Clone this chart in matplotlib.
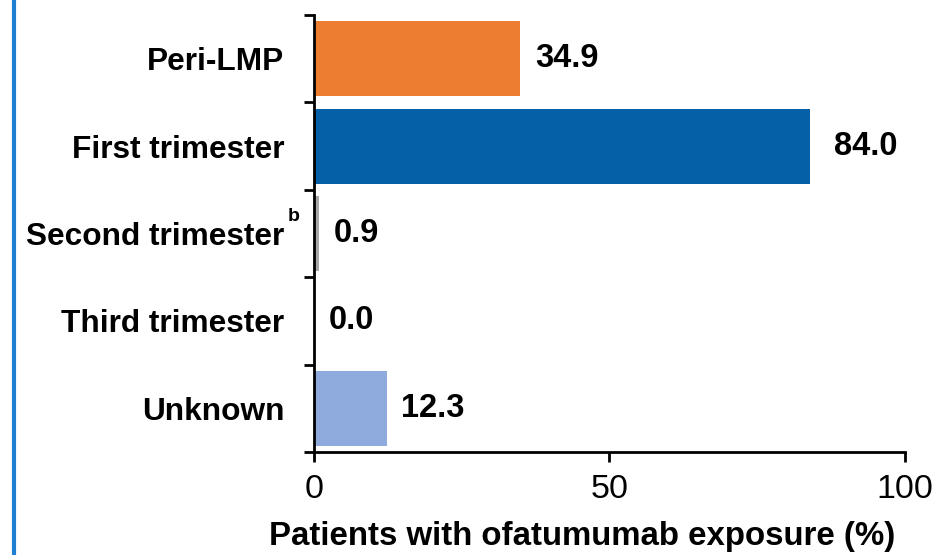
import matplotlib
matplotlib.use("Agg")
import matplotlib.pyplot as plt
from matplotlib.lines import Line2D

categories = ["Peri-LMP", "First trimester", "Second trimester", "Third trimester", "Unknown"]
values = [34.9, 84.0, 0.9, 0.0, 12.3]
value_labels = ["34.9", "84.0", "0.9", "0.0", "12.3"]
bar_colors = ["#ED7D31", "#0560A8", "#A6A6A6", "#A6A6A6", "#8FAADC"]
xticks = [0, 50, 100]
xtick_labels = ["0", "50", "100"]
xlabel = "Patients with ofatumumab exposure (%)"
footnote_mark = "b"

plt.rcParams['font.family'] = ['Liberation Sans', 'DejaVu Sans']

fig = plt.figure(figsize=(9.53, 5.55), dpi=100)
ax = fig.add_axes([314/953, 103/555, 591/953, 437/555])

ypos = list(range(len(categories)))
ax.barh(ypos, values, height=0.86, color=bar_colors, zorder=2)
ax.set_xlim(0, 100)
ax.set_ylim(len(categories) - 0.5, -0.5)

for y, v, lab in zip(ypos, values, value_labels):
    off = 17 if v > 80 else 10.5
    ax.annotate(lab, (v, y), xytext=(off, 0), textcoords="offset points",
                ha="left", va="center", fontsize=23.5, fontweight="bold")

# y ticks: boundaries with marks, labels at centres
ax.set_yticks([i - 0.5 for i in range(len(categories) + 1)])
ax.set_yticklabels([])
ax.set_yticks(ypos, minor=True)
ax.set_yticklabels(categories, minor=True, fontsize=22.8, fontweight="bold")
ax.tick_params(axis="y", which="major", length=7, width=2, direction="out")
ax.tick_params(axis="y", which="minor", length=0, pad=21.5)

ax.set_xticks(xticks)
ax.set_xticklabels(xtick_labels, fontsize=24.5)
ax.tick_params(axis="x", length=7, width=2, direction="out", pad=9)
ax.set_xlabel(xlabel, fontsize=23.8, fontweight="bold")
ax.xaxis.set_label_coords(0.453, -0.158)

for s in ["top", "right"]:
    ax.spines[s].set_visible(False)
for s in ["left", "bottom"]:
    ax.spines[s].set_linewidth(2)

# footnote superscript on "Second trimester"
ax.annotate(footnote_mark, (0, 2), xycoords=("axes fraction", "data"),
            xytext=(-14.5, 12), textcoords="offset points",
            ha="center", va="center", fontsize=14, fontweight="bold")

# blue vertical frame line at left
fig.add_artist(Line2D([14/953, 14/953], [0, 1], transform=fig.transFigure,
                      color="#1E7FD0", linewidth=3))

fig.savefig("out.png", dpi=100)
